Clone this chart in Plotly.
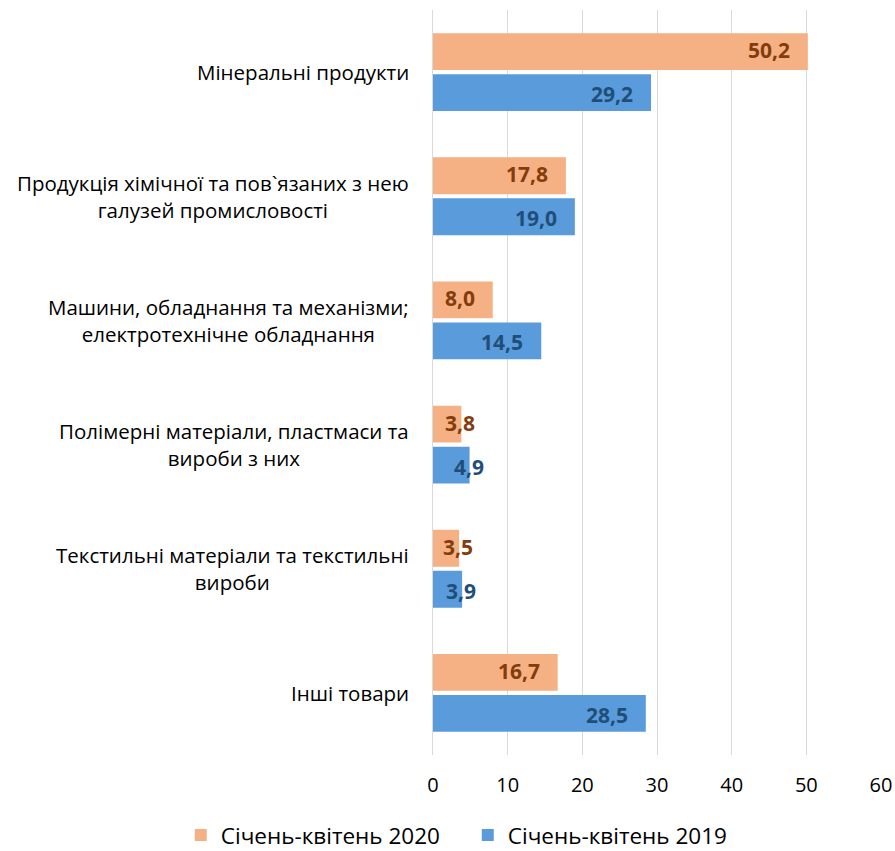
import plotly.graph_objects as go

# Product groups (top to bottom) and shares, %
categories = [
    "Мінеральні продукти",
    "Продукція хімічної та пов`язаних з нею<br>галузей промисловості",
    "Машини, обладнання та механізми;<br>електротехнічне обладнання",
    "Полімерні матеріали, пластмаси та<br>вироби з них",
    "Текстильні матеріали та текстильні<br>вироби",
    "Інші товари",
]
series_names = ["Січень-квітень 2020", "Січень-квітень 2019"]
values_2020 = [50.2, 17.8, 8.0, 3.8, 3.5, 16.7]
values_2019 = [29.2, 19.0, 14.5, 4.9, 3.9, 28.5]
x_ticks = [0, 10, 20, 30, 40, 50, 60]

FONT = "Open Sans, sans-serif"
bar_colors = ["#F5B183", "#5A9BDB"]
label_colors = ["#843C0C", "#1F4E79"]

fig = go.Figure()
for name, vals, col in zip(series_names, [values_2020, values_2019], bar_colors):
    fig.add_trace(go.Bar(
        y=categories, x=vals, orientation="h", name=name,
        marker=dict(color=col, line=dict(width=0)),
    ))

# value labels near the end of each bar
annotations = []
for i, (vals, lc) in enumerate(zip([values_2020, values_2019], label_colors)):
    yshift = 22 if i == 0 else -22
    for cat, v in zip(categories, vals):
        small = v < 6
        annotations.append(dict(
            x=v, y=cat, xref="x", yref="y",
            text=f"<b>{v:.1f}</b>".replace(".", ","),
            showarrow=False, xanchor="right",
            xshift=16 if small else -16, yshift=yshift,
            font=dict(family=FONT, size=21, color=lc),
        ))

# category labels, lines centred within the block
for cat in categories:
    annotations.append(dict(
        x=0, y=cat, xref="paper", yref="y",
        text=cat, showarrow=False, xanchor="right", align="center",
        xshift=-22, font=dict(family=FONT, size=20.5, color="#000000"),
    ))

fig.update_layout(
    width=895, height=851,
    margin=dict(l=433, r=14, t=10, b=96, autoexpand=False),
    paper_bgcolor="white", plot_bgcolor="white",
    barmode="group", bargap=0.34, bargroupgap=0.1,
    font=dict(family=FONT, size=20, color="#000000"),
    annotations=annotations,
    showlegend=True,
    legend=dict(
        orientation="h", x=-0.563, xref="paper", xanchor="left",
        y=-0.079, yref="paper", yanchor="top",
        entrywidth=242,
        font=dict(family=FONT, size=22.5, color="#000000"),
        traceorder="normal",
    ),
    xaxis=dict(
        range=[0, 60], tickvals=x_ticks, showgrid=True, gridcolor="#D9D9D9",
        gridwidth=1, zeroline=False, showline=False,
        tickfont=dict(family=FONT, size=20), ticklabelstandoff=16,
    ),
    yaxis=dict(
        autorange="reversed", showticklabels=False, showgrid=False,
        showline=True, linecolor="#D9D9D9", linewidth=1, ticks="",
    ),
)

fig.write_html("out.html")
